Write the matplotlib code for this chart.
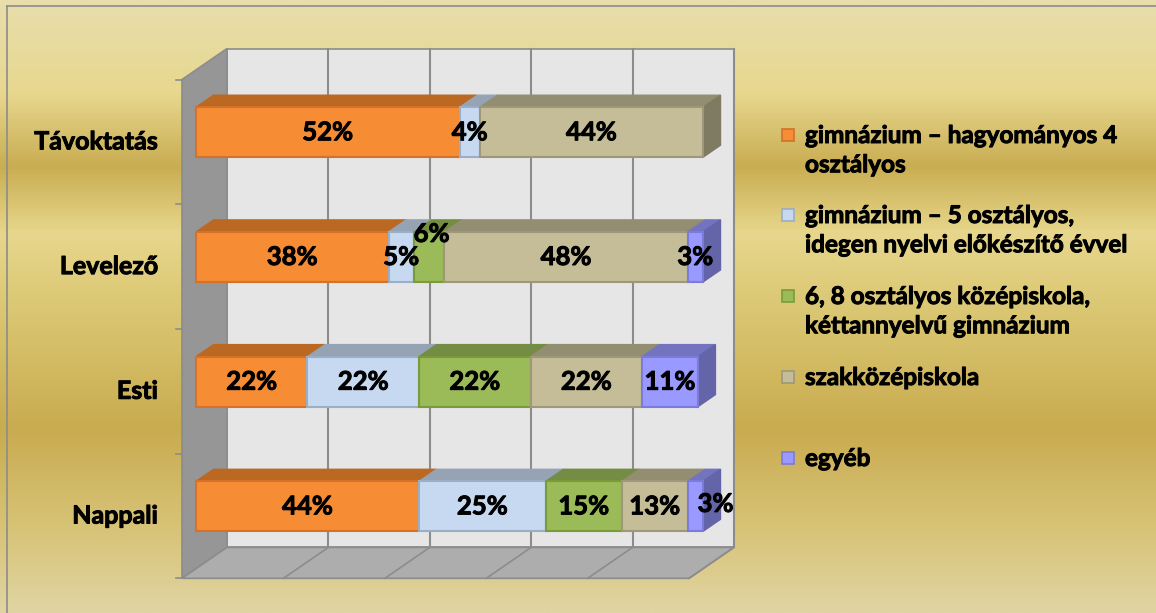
import matplotlib.pyplot as plt
import matplotlib.patheffects as pe
import numpy as np
from matplotlib.patches import Polygon, Rectangle
from matplotlib.colors import LinearSegmentedColormap

categories = ["Nappali", "Esti", "Levelező", "Távoktatás"]
series = ["gimnázium – hagyományos 4\nosztályos",
          "gimnázium – 5 osztályos,\nidegen nyelvi előkészítő évvel",
          "6, 8 osztályos középiskola,\nkéttannyelvű gimnázium",
          "szakközépiskola",
          "egyéb"]
values = [
    [44, 22, 38, 52],   # gimnázium 4
    [25, 22, 5, 4],     # gimnázium 5
    [15, 22, 6, 0],     # 6, 8 osztályos
    [13, 22, 48, 44],   # szakközépiskola
    [3, 11, 3, 0],      # egyéb
]

# colours: front, top, side, edge
colors = [
    ("#f68c33", "#bb6822", "#a45a1c", "#d4712a"),
    ("#c6d9f1", "#95a3b5", "#8794a3", "#9aaec6"),
    ("#9bbb59", "#748c43", "#66803a", "#7a9a3c"),
    ("#c4bd97", "#938e71", "#7f7b62", "#9e987a"),
    ("#9999ff", "#7373c0", "#6464a8", "#7b7bd9"),
]
# manual label nudges (category index, series index) -> (dx %, dy)
label_nudge = {(2, 2): (0.5, 0.185), (0, 4): (4.0, 0.02)}

plt.rcParams['font.family'] = ['Lato', 'DejaVu Sans']
WEIGHT = "bold"
heavy = [pe.withStroke(linewidth=0.7, foreground="black")]

W, H = 1156, 613
fig = plt.figure(figsize=(W / 100, H / 100), dpi=100)

# gold gradient background
bg = fig.add_axes([0, 0, 1, 1], zorder=0)
stops = [(0.0, (233, 222, 172)), (0.15, (231, 215, 142)), (0.27, (201, 173, 82)),
         (0.38, (231, 215, 140)), (0.55, (214, 193, 106)), (0.70, (201, 171, 80)),
         (0.86, (215, 195, 118)), (1.0, (224, 212, 162))]
cmap = LinearSegmentedColormap.from_list(
    "gold", [(p, tuple(c / 255 for c in rgb)) for p, rgb in stops])
bg.imshow(np.linspace(0, 1, 400).reshape(-1, 1), aspect="auto", cmap=cmap,
          extent=[0, 1, 0, 1], origin="upper")
bg.plot([0.006, 0.006], [0, 0.99], color="#8c8c8c", lw=1.2)
bg.plot([0.006, 1], [0.99, 0.99], color="#8c8c8c", lw=1.2)
bg.set_xlim(0, 1)
bg.set_ylim(0, 1)
bg.axis("off")

# main axes: x in percent, y in category units (front plane)
PX, PY = 5.07, 124.7
X0, Y0 = 182, 516
ax = fig.add_axes([0, 0, 1, 1], zorder=1)
ax.set_xlim(-X0 / PX, (W - X0) / PX)
ax.set_ylim((Y0 - H) / PY, Y0 / PY)
ax.axis("off")
ax.patch.set_alpha(0)

DX, DY = 45 / PX, 31 / PY


def proj(x, y, d):
    return (x + d * DX, y + d * DY)


def face(pts, fc, ec, lw=1.0, z=2):
    ax.add_patch(Polygon([proj(*p) for p in pts], closed=True, facecolor=fc,
                         edgecolor=ec, lw=lw, zorder=z, joinstyle="miter"))


ylo, yhi = -0.5, len(categories) - 0.5
# walls
face([(0, ylo, 1), (100, ylo, 1), (100, yhi, 1), (0, yhi, 1)], "#e6e6e6", "#8c8c8c", 1.2, 1)
face([(0, ylo, 0), (0, yhi, 0), (0, yhi, 1), (0, ylo, 1)], "#969696", "#8c8c8c", 1.2, 1)
face([(0, ylo, 0), (100, ylo, 0), (100, ylo, 1), (0, ylo, 1)], "#adadad", "#8c8c8c", 1.2, 1)
for g in range(20, 101, 20):
    ax.plot(*zip(proj(g, ylo, 1), proj(g, yhi, 1)), color="#8c8c8c", lw=1.5, zorder=1.5)
    ax.plot(*zip(proj(g, ylo, 0), proj(g, ylo, 1)), color="#8c8c8c", lw=1.2, zorder=1.5)
for t in np.arange(ylo, yhi + 0.01, 1):
    ax.plot([-6 / PX, 0], [t, t], color="#8c8c8c", lw=1.2, zorder=1.5)

# category labels
for i, cat in enumerate(categories):
    ax.text(-24 / PX, i, cat, ha="right", va="center", fontsize=18, fontweight=WEIGHT,
            path_effects=heavy)

# 3D stacked bars
d0, d1 = 0.31, 0.70
h = 25 / PY
for i in range(len(categories)):
    start = 0
    segs = [(j, values[j][i]) for j in range(len(series)) if values[j][i] > 0]
    for k, (j, v) in enumerate(segs):
        fc, tc, sc, ec = colors[j]
        x1, x2 = start, start + v
        y1, y2 = i - h, i + h
        z = 2 + k * 0.1
        face([(x1, y2, d0), (x2, y2, d0), (x2, y2, d1), (x1, y2, d1)], tc, tc, 1.0, z)
        if k == len(segs) - 1:
            face([(x2, y1, d0), (x2, y1, d1), (x2, y2, d1), (x2, y2, d0)], sc, sc, 1.0, z)
        face([(x1, y1, d0), (x2, y1, d0), (x2, y2, d0), (x1, y2, d0)], fc, ec, 1.5, z + 0.05)
        nx, ny = label_nudge.get((i, j), (0, 0))
        lx, ly = proj(start + v / 2 + nx, i + ny, d0)
        ax.text(lx, ly, f"{v}%", ha="center", va="center", fontsize=18.5,
                fontweight=WEIGHT, zorder=5, path_effects=heavy)
        start += v

# legend
leg_y = [135, 215, 296, 377, 458]
for j, name in enumerate(series):
    y = 1 - leg_y[j] / H
    fig.add_artist(Rectangle((782 / W, y - 6 / H), 12 / W, 12 / H, transform=fig.transFigure,
                             facecolor=colors[j][0], edgecolor=colors[j][3], lw=1.2, zorder=3))
    fig.text(805 / W, y + 11 / H, name, ha="left", va="top", fontsize=17.5,
             fontweight=WEIGHT, linespacing=1.33, zorder=3, path_effects=heavy)

fig.savefig("out.png", dpi=100)
